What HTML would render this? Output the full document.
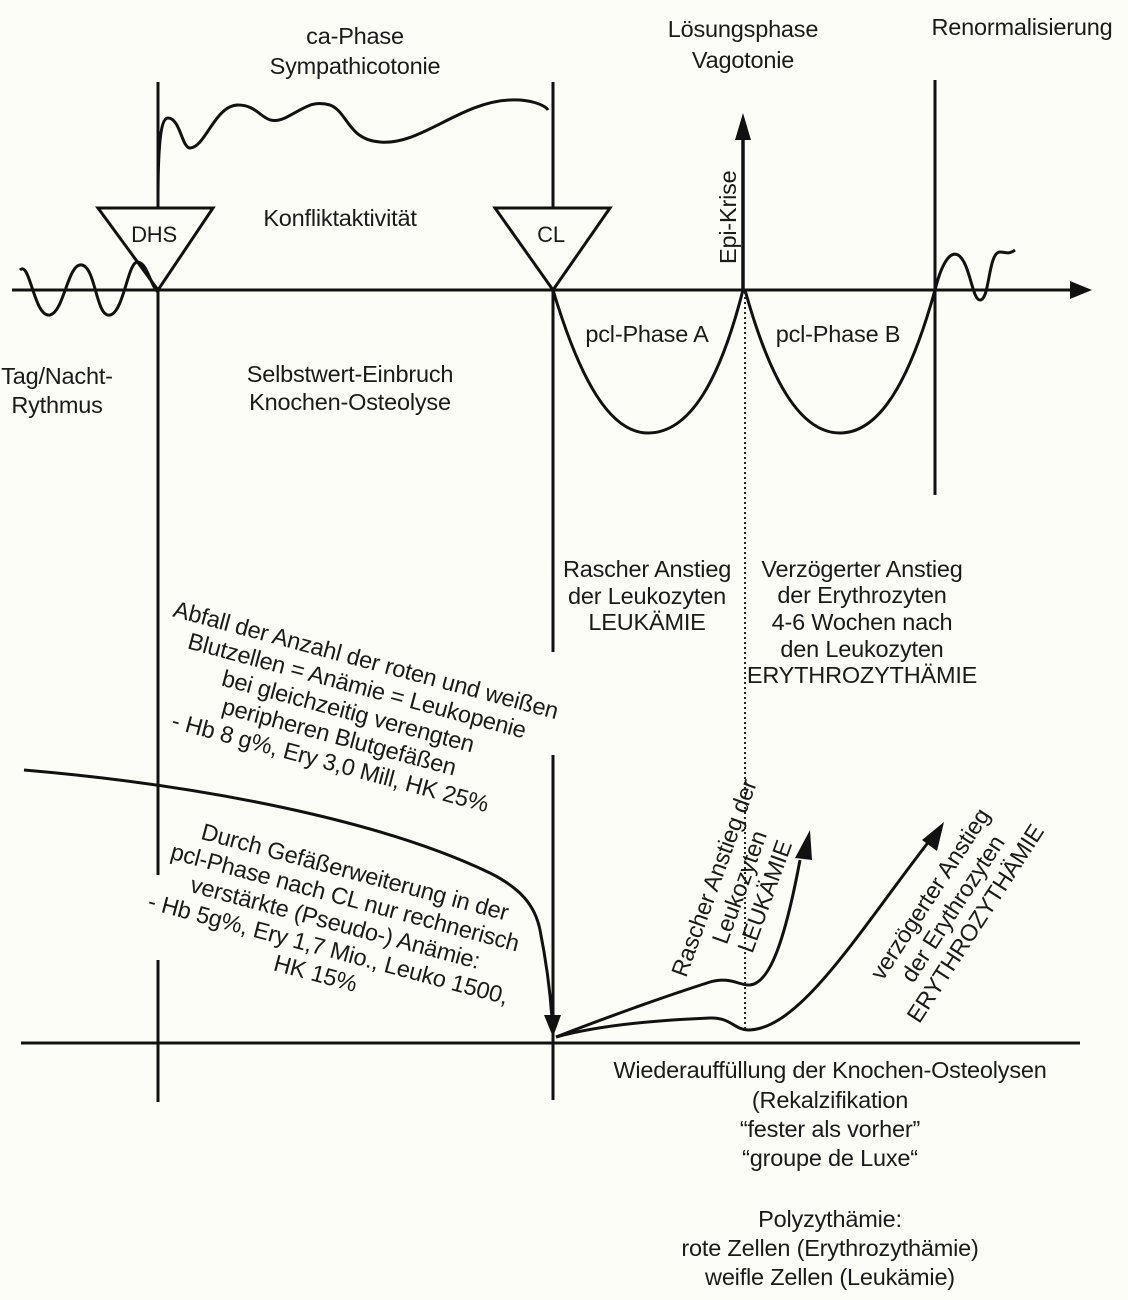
<!DOCTYPE html>
<html><head><meta charset="utf-8"><style>
html,body{margin:0;padding:0;background:#fdfdf8;}
svg{display:block}
text{font-family:"Liberation Sans",Arial,sans-serif;font-size:23.5px;fill:#1a1a1a;letter-spacing:-0.2px}
</style></head><body>
<svg width="1128" height="1300" viewBox="0 0 1128 1300" xmlns="http://www.w3.org/2000/svg">
<rect width="1128" height="1300" fill="#fdfdf8"/>
<g stroke="#111" stroke-width="3" fill="none">
<line x1="12" y1="290" x2="1075" y2="290"/>
<line x1="158" y1="82" x2="158" y2="875"/>
<line x1="158" y1="960" x2="158" y2="1102"/>
<line x1="553" y1="82" x2="553" y2="652"/>
<line x1="553" y1="755" x2="553" y2="1100"/>
<line x1="935" y1="80" x2="935" y2="495"/>
<line x1="743" y1="290" x2="743" y2="135" stroke-width="3.5"/>
<polygon points="98,208 213,208 158,290" fill="#fdfdf8"/>
<polygon points="495,208 610,208 553,290" fill="#fdfdf8"/>
<path d="M158,200 C158,150 160,118 168,118 C180,118 182,148 190,148 C205,148 215,105 238,105 C262,105 262,128 285,118 C305,108 312,100 330,105 C348,112 348,140 380,142 C420,146 460,102 510,100 C530,99 545,105 548,110"/>
<path d="M20,270 C30,260 34,318 50,315 C64,312 68,262 82,265 C96,268 96,318 110,315 C124,312 128,260 138,262 C148,264 150,285 158,292"/>
<path d="M935,290 C940,270 948,250 958,255 C970,262 972,300 980,300 C990,300 988,252 1000,252 C1006,252 1008,255 1015,250"/>
<path d="M553,290 C580,380 610,433 648,433 C690,433 720,380 743,290"/>
<path d="M745,290 C770,380 800,433 840,433 C880,433 910,380 935,290"/>
<line x1="21" y1="1043" x2="1080" y2="1043"/>
<path d="M24,770 C200,785 380,820 490,873 C520,888 535,905 540,930 C546,960 550,990 552,1018"/>
<path d="M556,1037 C600,1020 660,998 710,982 C730,976 740,986 750,985 C770,983 785,940 800,860"/>
<path d="M556,1037 C600,1025 660,1020 710,1018 C730,1017 735,1030 748,1030 C800,1030 860,930 930,840"/>
</g>
<line x1="745" y1="292" x2="745" y2="1030" stroke="#222" stroke-width="2" stroke-dasharray="2,3"/>
<g fill="#111">
<polygon points="1092,290 1070,281 1070,299"/>
<polygon points="743,113 735,140 751,140"/>
<polygon points="553,1037 544,1015 561,1015"/>
<polygon points="810,830 795,858 812,860"/>
<polygon points="944,822 922,840 937,851"/>
</g>
<g text-anchor="middle">
<text x="355" y="44">ca-Phase</text>
<text x="355" y="74">Sympathicotonie</text>
<text x="743" y="37">Lösungsphase</text>
<text x="743" y="68">Vagotonie</text>
<text x="1022" y="35">Renormalisierung</text>
<text x="340" y="226">Konfliktaktivität</text>
<text x="154" y="242" style="font-size:22px">DHS</text>
<text x="551" y="242" style="font-size:22px">CL</text>
<text x="57" y="384">Tag/Nacht-</text>
<text x="57" y="413">Rythmus</text>
<text x="350" y="382">Selbstwert-Einbruch</text>
<text x="350" y="410">Knochen-Osteolyse</text>
<text x="647" y="342">pcl-Phase A</text>
<text x="838" y="342">pcl-Phase B</text>
<text x="647" y="577">Rascher Anstieg</text>
<text x="647" y="604">der Leukozyten</text>
<text x="647" y="630">LEUKÄMIE</text>
<text x="862" y="577">Verzögerter Anstieg</text>
<text x="862" y="603">der Erythrozyten</text>
<text x="862" y="630">4-6 Wochen nach</text>
<text x="862" y="657">den Leukozyten</text>
<text x="862" y="683">ERYTHROZYTHÄMIE</text>
<text x="830" y="1078">Wiederauffüllung der Knochen-Osteolysen</text>
<text x="830" y="1108">(Rekalzifikation</text>
<text x="830" y="1137">“fester als vorher”</text>
<text x="830" y="1166">“groupe de Luxe“</text>
<text x="830" y="1227">Polyzythämie:</text>
<text x="830" y="1256">rote Zellen (Erythrozythämie)</text>
<text x="830" y="1285">weifle Zellen (Leukämie)</text>
</g>
<text transform="translate(736,264) rotate(-90)" text-anchor="start">Epi-Krise</text>
<g transform="translate(366,660) rotate(15)" text-anchor="middle">
<text x="0" y="8">Abfall der Anzahl der roten und weißen</text>
<text x="-2" y="35">Blutzellen = Anämie = Leukopenie</text>
<text x="-4" y="62">bei gleichzeitig verengten</text>
<text x="-6" y="89">peripheren Blutgefäßen</text>
<text x="-8" y="116">- Hb 8 g%, Ery 3,0 Mill, HK 25%</text>
</g>
<g transform="translate(355,872) rotate(15)" text-anchor="middle">
<text x="0" y="8">Durch Gefäßerweiterung in der</text>
<text x="-3" y="35">pcl-Phase nach CL nur rechnerisch</text>
<text x="-6" y="62">verstärkte (Pseudo-) Anämie:</text>
<text x="-6" y="89">- Hb 5g%, Ery 1,7 Mio., Leuko 1500,</text>
<text x="-12" y="116">HK 15%</text>
</g>
<g transform="translate(714,878) rotate(-70)" text-anchor="middle">
<text x="0" y="8">Rascher Anstieg der</text>
<text x="0" y="35">Leukozyten</text>
<text x="0" y="62">LEUKÄMIE</text>
</g>
<g transform="translate(930,894) rotate(-57)" text-anchor="middle">
<text x="0" y="8">verzögerter Anstieg</text>
<text x="0" y="35">der Erythrozyten</text>
<text x="0" y="62">ERYTHROZYTHÄMIE</text>
</g>
</svg>
</body></html>
